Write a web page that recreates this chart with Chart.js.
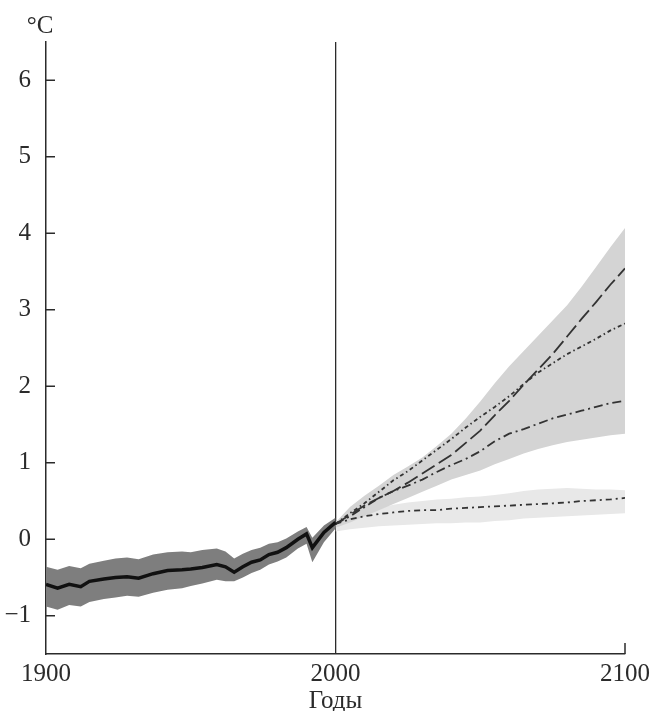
<!DOCTYPE html>
<html lang="ru">
<head>
    <meta charset="UTF-8">
    <title>Температура</title>
    <script src="https://cdn.jsdelivr.net/npm/chart.js"></script>
    <style>
        body { margin: 0; background: #fff; }
        .chart-container { width: 655px; height: 711px; position: relative; }
    </style>
</head>
<body>
    <div class="chart-container"><canvas id="chart"></canvas></div>

    <script>
    // observed 1900-2000
    const HIST_YEARS = [1900, 1904, 1908, 1912, 1915, 1920, 1924, 1928, 1932, 1937, 1942, 1947, 1950, 1954, 1959, 1962, 1965, 1968, 1971, 1974, 1977, 1980, 1983, 1987, 1990, 1992, 1996, 2000];
    const HIST_MEAN = [-0.59, -0.64, -0.59, -0.62, -0.55, -0.52, -0.50, -0.49, -0.51, -0.45, -0.41, -0.40, -0.39, -0.37, -0.33, -0.36, -0.43, -0.36, -0.30, -0.27, -0.20, -0.17, -0.11, 0.00, 0.07, -0.11, 0.09, 0.22];
    const HIST_HIGH = [-0.36, -0.40, -0.35, -0.38, -0.32, -0.28, -0.25, -0.24, -0.26, -0.20, -0.17, -0.16, -0.17, -0.14, -0.12, -0.16, -0.25, -0.19, -0.14, -0.11, -0.06, -0.04, 0.01, 0.10, 0.16, 0.02, 0.18, 0.28];
    const HIST_LOW = [-0.88, -0.92, -0.86, -0.88, -0.82, -0.78, -0.76, -0.74, -0.75, -0.70, -0.66, -0.64, -0.61, -0.58, -0.53, -0.55, -0.55, -0.50, -0.44, -0.40, -0.33, -0.29, -0.24, -0.12, -0.06, -0.30, -0.04, 0.14];

    // scenarios 2000-2100
    const PROJ_YEARS = [2000, 2005, 2010, 2015, 2020, 2025, 2030, 2035, 2040, 2045, 2050, 2055, 2060, 2065, 2070, 2075, 2080, 2085, 2090, 2095, 2100];
    const A2 = [0.20, 0.32, 0.44, 0.54, 0.63, 0.74, 0.86, 0.98, 1.10, 1.26, 1.42, 1.62, 1.81, 2.02, 2.22, 2.42, 2.65, 2.88, 3.10, 3.33, 3.54];
    const A1B = [0.20, 0.34, 0.47, 0.62, 0.77, 0.89, 1.03, 1.17, 1.31, 1.46, 1.60, 1.73, 1.87, 2.03, 2.18, 2.30, 2.42, 2.52, 2.62, 2.73, 2.82];
    const B1 = [0.20, 0.30, 0.42, 0.54, 0.63, 0.70, 0.78, 0.88, 0.97, 1.05, 1.15, 1.28, 1.38, 1.44, 1.51, 1.58, 1.63, 1.68, 1.73, 1.78, 1.81];
    const CONST = [0.20, 0.26, 0.30, 0.33, 0.35, 0.37, 0.38, 0.38, 0.40, 0.41, 0.42, 0.43, 0.44, 0.45, 0.46, 0.47, 0.48, 0.50, 0.51, 0.52, 0.54];
    const RANGE_HIGH = [0.22, 0.42, 0.57, 0.70, 0.84, 0.95, 1.07, 1.22, 1.38, 1.58, 1.80, 2.04, 2.26, 2.46, 2.66, 2.86, 3.06, 3.30, 3.56, 3.82, 4.07];
    const RANGE_LOW = [0.15, 0.22, 0.30, 0.38, 0.46, 0.54, 0.62, 0.70, 0.78, 0.84, 0.90, 0.98, 1.05, 1.12, 1.18, 1.23, 1.27, 1.30, 1.33, 1.36, 1.38];
    const CONST_HIGH = [0.22, 0.30, 0.35, 0.41, 0.45, 0.48, 0.50, 0.52, 0.53, 0.55, 0.56, 0.58, 0.60, 0.63, 0.65, 0.66, 0.67, 0.66, 0.65, 0.65, 0.64];
    const CONST_LOW = [0.10, 0.13, 0.15, 0.17, 0.18, 0.19, 0.20, 0.21, 0.21, 0.22, 0.22, 0.24, 0.25, 0.27, 0.28, 0.29, 0.30, 0.31, 0.32, 0.33, 0.34];

    const X_TICKS = [1900, 2000, 2100];
    const Y_TICKS = [-1, 0, 1, 2, 3, 4, 5, 6];

    const FONT = 'Liberation Serif, Times New Roman, serif';
    const INK = '#2b2b2b';

    function pts(xs, ys) {
        return xs.map((x, i) => ({ x: x, y: ys[i] }));
    }

    function edge(xs, ys, fill, color, order) {
        return {
            data: pts(xs, ys), borderWidth: 0, pointRadius: 0,
            fill: fill, backgroundColor: color, order: order
        };
    }

    function line(ys, dash, order) {
        return {
            data: pts(PROJ_YEARS, ys), borderColor: '#333', borderWidth: 1.8,
            borderDash: dash, pointRadius: 0, fill: false, order: order
        };
    }

    // inward tick marks + unit label
    const extras = {
        id: 'extras',
        afterDraw(chart) {
            const ctx = chart.ctx;
            const x = chart.scales.x, y = chart.scales.y;
            ctx.save();
            ctx.strokeStyle = INK;
            ctx.lineWidth = 1.5;
            Y_TICKS.forEach(v => {
                const py = y.getPixelForValue(v);
                ctx.beginPath();
                ctx.moveTo(x.left, py);
                ctx.lineTo(x.left + 9, py);
                ctx.stroke();
            });
            const px = x.getPixelForValue(2100);
            ctx.beginPath();
            ctx.moveTo(px, y.bottom);
            ctx.lineTo(px, y.bottom - 11);
            ctx.stroke();
            ctx.fillStyle = INK;
            ctx.font = '25px ' + FONT;
            ctx.textBaseline = 'middle';
            ctx.textAlign = 'center';
            ctx.fillText('°C', 40, 26);
            ctx.restore();
        }
    };

    new Chart(document.getElementById('chart'), {
        type: 'line',
        data: {
            datasets: [
                edge(HIST_YEARS, HIST_LOW, false, 'transparent', 6),
                edge(HIST_YEARS, HIST_HIGH, '-1', '#7e7e7e', 6),
                edge(PROJ_YEARS, CONST_LOW, false, 'transparent', 8),
                edge(PROJ_YEARS, CONST_HIGH, '-1', '#e8e8e8', 8),
                edge(PROJ_YEARS, RANGE_LOW, false, 'transparent', 7),
                edge(PROJ_YEARS, RANGE_HIGH, '-1', '#d4d4d4', 7),
                line(A2, [15, 5], 2),
                line(A1B, [4, 3, 1.5, 3], 2),
                line(B1, [9, 4, 2, 4], 2),
                line(CONST, [6, 4, 2, 4], 2),
                {
                    data: pts(HIST_YEARS, HIST_MEAN), borderColor: '#111', borderWidth: 3.5,
                    pointRadius: 0, fill: false, order: 1
                }
            ]
        },
        options: {
            responsive: true,
            maintainAspectRatio: false,
            animation: false,
            layout: { padding: { top: 42, right: 26, left: 0, bottom: 0 } },
            plugins: {
                legend: { display: false },
                tooltip: { enabled: false }
            },
            scales: {
                x: {
                    type: 'linear',
                    min: 1900,
                    max: 2100,
                    afterBuildTicks: s => { s.ticks = X_TICKS.map(v => ({ value: v })); },
                    afterFit: s => { s.height = 57; },
                    grid: {
                        drawTicks: false,
                        lineWidth: 1.3,
                        color: c => c.tick && c.tick.value === 2000 ? INK : 'transparent'
                    },
                    border: { display: true, color: INK, width: 1.5 },
                    ticks: {
                        color: INK, padding: 5,
                        font: { family: FONT, size: 25 },
                        maxRotation: 0,
                        callback: v => String(v)
                    },
                    title: {
                        display: true, text: 'Годы', color: INK,
                        font: { family: FONT, size: 25, lineHeight: 1 },
                        padding: { top: 0, bottom: -3 }
                    }
                },
                y: {
                    min: -1.5,
                    max: 6.5,
                    afterBuildTicks: s => { s.ticks = Y_TICKS.map(v => ({ value: v })); },
                    afterFit: s => { s.width = 46; },
                    grid: { display: false, drawTicks: false },
                    border: { display: true, color: INK, width: 1.5 },
                    ticks: {
                        color: INK, padding: 15,
                        font: { family: FONT, size: 25 },
                        callback: v => String(v).replace('-', '\u2212')
                    }
                }
            }
        },
        plugins: [extras]
    });
    </script>
</body>
</html>
